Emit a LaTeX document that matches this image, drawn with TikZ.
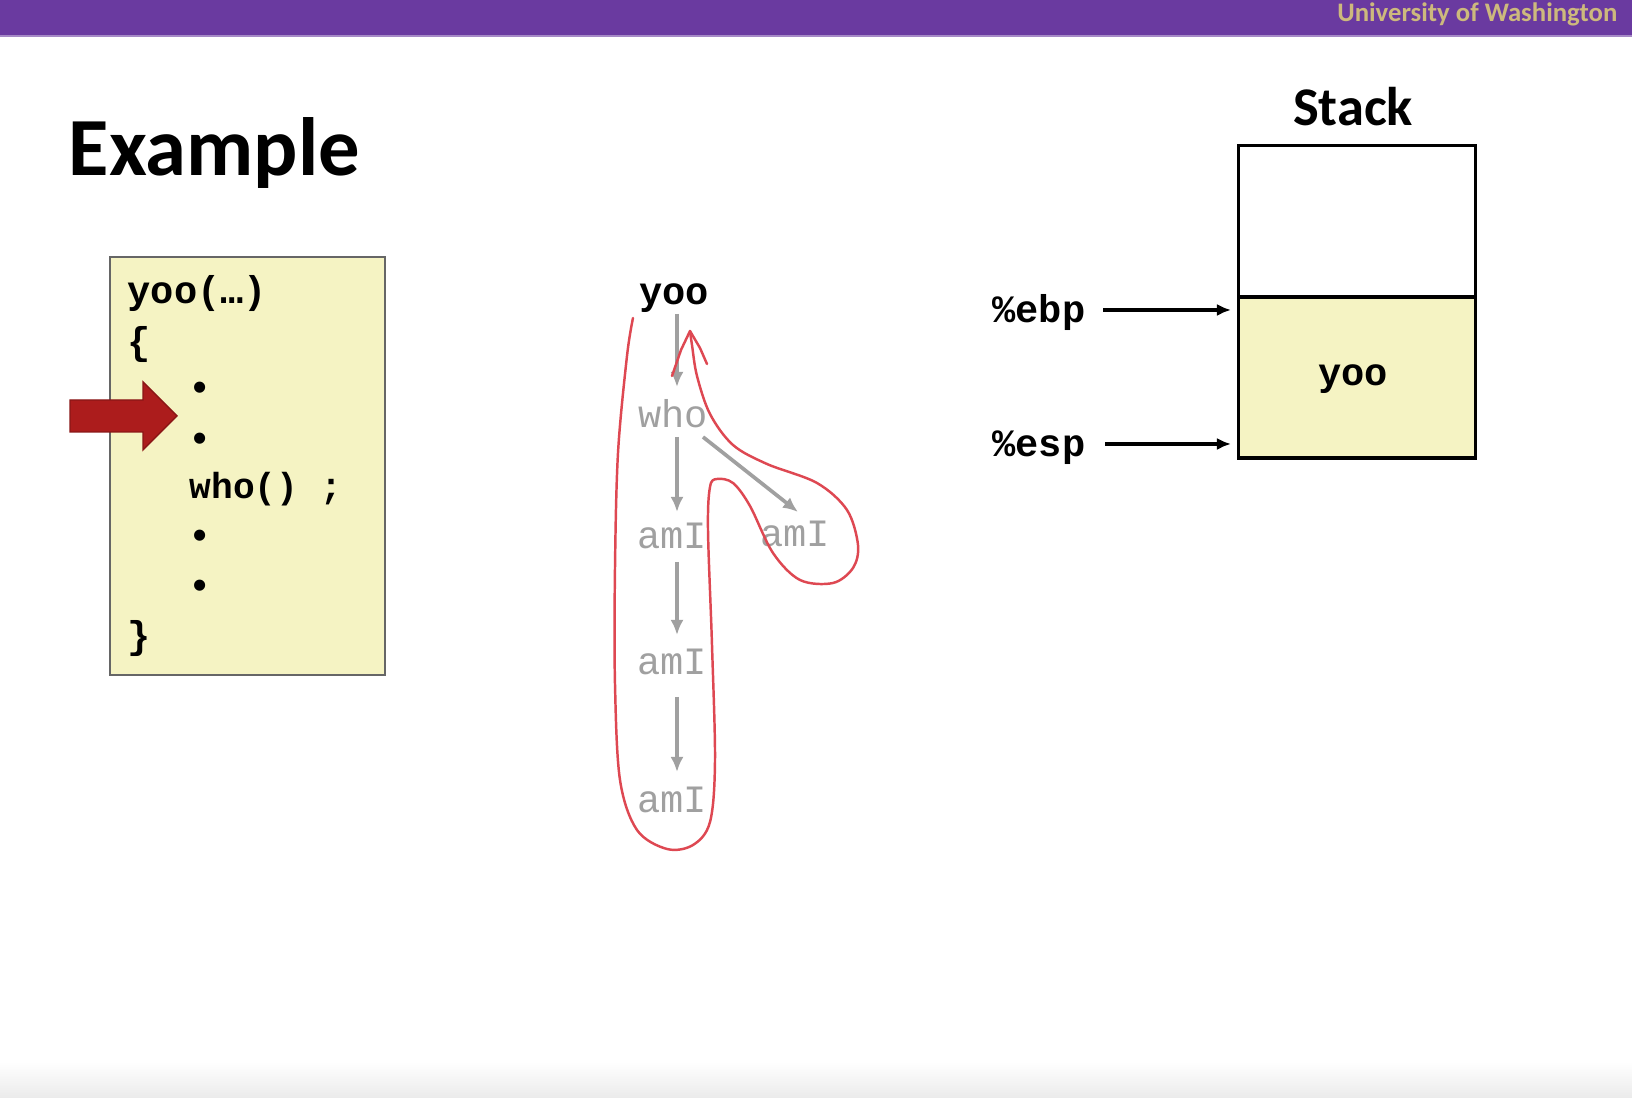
\documentclass[tikz,border=0pt]{standalone}
\usepackage{fontspec}
\setmainfont{Carlito}
\newfontfamily\codefont{Liberation Mono}
\usetikzlibrary{arrows.meta,calc}
\definecolor{uwpurple}{RGB}{106,58,160}
\definecolor{uwgold}{RGB}{205,185,125}
\definecolor{codebg}{RGB}{245,243,195}
\definecolor{treegray}{RGB}{160,160,160}
\definecolor{penred}{RGB}{222,72,82}
\definecolor{arrowred}{RGB}{172,28,28}
\begin{document}
\begin{tikzpicture}[x=0.01cm,y=-0.01cm,
  codetxt/.style={font=\codefont\bfseries\fontsize{11}{13}\selectfont, inner sep=0pt, anchor=base west},
  bul/.style={font=\codefont\bfseries\fontsize{11}{13}\selectfont, inner sep=0pt, anchor=base},
  treebold/.style={font=\codefont\bfseries\fontsize{11}{13}\selectfont, inner sep=0pt, anchor=base},
  treetxt/.style={font=\codefont\fontsize{11}{13}\selectfont, text=treegray, inner sep=0pt, anchor=base},
  treearrow/.style={draw=treegray, line width=1.05pt, -{Latex[length=1.5mm,width=1.3mm]}},
  regtxt/.style={font=\codefont\bfseries\fontsize{11}{13}\selectfont, inner sep=0pt},
  ptrarrow/.style={draw=black, line width=0.95pt, -{Latex[length=1.4mm,width=1.2mm]}},
  penline/.style={draw=penred, line width=0.7pt, line cap=round, line join=round}]
\useasboundingbox (0,0) rectangle (1632,1098);
\fill[white] (0,0) rectangle (1632,1098);
% header bar
\fill[uwpurple] (0,0) rectangle (1632,36);
\draw[uwpurple!60, line width=0.5pt] (0,36) -- (1632,36);
\node[font=\bfseries\fontsize{7.6}{9}\selectfont, text=uwgold, inner sep=0pt, anchor=base east] (uw) at (1618,22) {University of Washington};
% bottom shade
\shade[top color=white, bottom color=black!8] (0,1062) rectangle (1632,1098);
% title
\node[font=\bfseries\fontsize{23.5}{28}\selectfont, inner sep=0pt, anchor=base west] (title) at (68,176) {Example};

% code box
\node[draw=black!60, line width=0.6pt, fill=codebg, minimum width=2.75cm, minimum height=4.18cm, inner sep=0pt] (codebox) at (247.5,466) {};
\node[codetxt] (c1) at (127,304) {yoo(…)};
\node[codetxt] (c2) at (127,355) {\{};
\node[bul] (b1) at (200,401) {•};
\node[bul] (b2) at (200,452) {•};
\node[codetxt, font=\codefont\bfseries\fontsize{10.3}{12}\selectfont] (c3) at (189,499) {who() ;};
\node[bul] (b3) at (200,549) {•};
\node[bul] (b4) at (200,599) {•};
\node[codetxt] (c4) at (127,649) {\}};
% red block arrow
\fill[arrowred, draw=arrowred!80!black, line width=0.4pt] (70,400) -- (143,400) -- (143,382) -- (177,416) -- (143,450) -- (143,432) -- (70,432) -- cycle;

% call tree
\node[treebold] (yoo) at (674,305) {yoo};
\node[treetxt] (who) at (673,428) {who};
\node[treetxt] (ami1) at (672,549) {amI};
\node[treetxt] (ami2) at (795,547) {amI};
\node[treetxt] (ami3) at (672,675) {amI};
\node[treetxt] (ami4) at (672,813) {amI};
\draw[treearrow] ($(yoo.base)+(3,9)$) -- ($(who.base)+(4,-41)$);
\draw[treearrow] ($(who.base)+(4,9)$) -- ($(ami1.base)+(5,-37)$);
\draw[treearrow] ($(who.base)+(30,9)$) -- ($(ami2.base)+(3,-35)$);
\draw[treearrow] ($(ami1.base)+(5,13)$) -- ($(ami3.base)+(5,-40)$);
\draw[treearrow] ($(ami3.base)+(5,22)$) -- ($(ami4.base)+(5,-41)$);
% red pen loop
\draw[penline] plot[smooth, tension=0.55] coordinates {
 (633,318) (627,356) (618,453) (615,568) (615,684) (620,780) (637,830) (667,849)
 (693,845) (710,822) (715,761) (712,645) (708,530) (710,487) (717,479) (733,483)
 (750,506) (773,553) (800,580) (833,583) (853,568) (858,545) (847,510) (817,483)
 (767,464) (733,445) (710,414) (697,376) (692,345) (690,331)};
\draw[penline] (672,376) -- (681,350) -- (690,331) -- (700,348) -- (707,364);

% stack
\node[font=\bfseries\fontsize{15.5}{18}\selectfont, inner sep=0pt, anchor=base] (stacklbl) at (1353,126) {Stack};
\node[draw=black, line width=1pt, fill=white, minimum width=2.37cm, minimum height=1.51cm, inner sep=0pt] (stacktop) at (1357,221) {};
\node[draw=black, line width=1pt, fill=codebg, minimum width=2.37cm, minimum height=1.61cm, inner sep=0pt, font=\codefont\bfseries\fontsize{11}{13}\selectfont] (stackyoo) at (1357,377.5) {};
\node[font=\codefont\bfseries\fontsize{11}{13}\selectfont, inner sep=0pt, anchor=base] (stackyootxt) at (1353,386) {yoo};
\node[regtxt, anchor=east] (ebp) at (1086,313) {\%ebp};
\node[regtxt, anchor=east] (esp) at (1086,448) {\%esp};
\coordinate (ebpin) at (1231,310);
\coordinate (espin) at (1231,444);
\draw[ptrarrow] (ebp.east) ++(17,-3) -- (ebpin);
\draw[ptrarrow] (esp.east) ++(19,-4) -- (espin);
\end{tikzpicture}
\end{document}
